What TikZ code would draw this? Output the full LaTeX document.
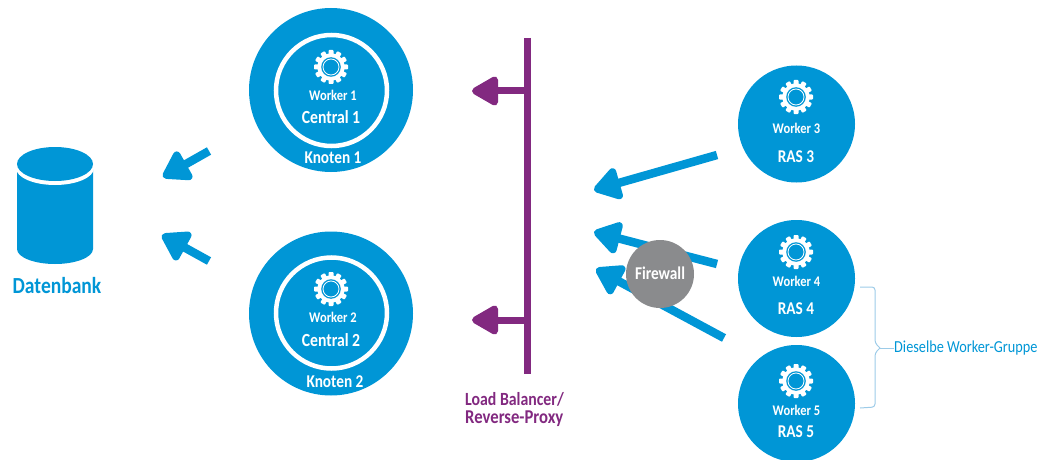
\documentclass[tikz,border=0pt]{standalone}
\usepackage{fontspec}
\setmainfont[FakeStretch=0.85]{Carlito}
\usetikzlibrary{arrows.meta}
\definecolor{hpblue}{HTML}{0096D6}
\definecolor{lbpurple}{HTML}{822980}
\definecolor{fwgray}{HTML}{8A8B8D}
\definecolor{bracketblue}{HTML}{9CCBE8}
\tikzset{
  x=1pt,y=-1pt,
  disc/.style={circle,fill=hpblue,draw=none,inner sep=0pt,minimum size=#1},
  lbl/.style={inner sep=0pt,text=white,font=\bfseries\fontsize{#1}{#1}\selectfont},
  bluearrow/.style={draw=hpblue,line width=8.5pt,-{Triangle[round,length=30pt,width=36pt]}},
  purplearrow/.style={draw=lbpurple,line width=7pt,-{Triangle[round,length=30pt,width=32pt]}},
  pics/gearicon/.style={code={
    \foreach \a in {0,30,...,330}{
      \fill[white,rotate=\a,rounded corners=0.8pt] (-2.5,-17) rectangle (2.5,-11);
    }
    \fill[white] (0,0) circle (13.6);
    \fill[hpblue] (0,0) circle (9.8);
    \draw[white,line width=0.8pt] (0,0) circle (8);
  }}
}
\begin{document}
\begin{tikzpicture}
\useasboundingbox (0,0) rectangle (1042,460);

% database
\fill[hpblue] (17,168) -- (17,249) arc[start angle=180,end angle=0,x radius=38,y radius=15] -- (93,168) -- cycle;
\fill[white] (55,168) ellipse[x radius=39,y radius=17];
\fill[hpblue] (55,164) ellipse[x radius=38,y radius=17];
\node[lbl=23,text=hpblue] (dblabel) at (57,286) {Datenbank};

% central nodes
\node[disc=164pt] (knoten1) at (331,90) {};
\node[circle,draw=white,line width=4.5pt,minimum size=111pt,inner sep=0pt] (ring1) at (331.5,90.5) {};
\pic at (331,67) {gearicon};
\node[lbl=14.7] (w1) at (333,95) {Worker 1};
\node[lbl=18.5] (c1) at (331,117) {Central 1};
\node[lbl=18] (k1) at (333,158) {Knoten 1};

\node[disc=164pt] (knoten2) at (331,313.5) {};
\node[circle,draw=white,line width=4.5pt,minimum size=111pt,inner sep=0pt] (ring2) at (331.5,313) {};
\pic at (331,289) {gearicon};
\node[lbl=14.7] (w2) at (333,317) {Worker 2};
\node[lbl=18.5] (c2) at (331,340) {Central 2};
\node[lbl=18] (k2) at (335,382) {Knoten 2};

% arrows to the database
\coordinate (a1s) at (209,151);
\coordinate (a1e) at (163,177);
\coordinate (a2s) at (209,261);
\coordinate (a2e) at (162,235);
\draw[bluearrow] (a1s) -- (a1e);
\draw[bluearrow] (a2s) -- (a2e);

% load balancer
\coordinate (bartop) at (527,38);
\coordinate (barbot) at (527,374);
\draw[lbpurple,line width=7pt] (bartop) -- (barbot);
\coordinate (p1s) at (527,91);
\coordinate (p1e) at (472,91);
\coordinate (p2s) at (527,320);
\coordinate (p2e) at (472,320);
\draw[purplearrow] (p1s) -- (p1e);
\draw[purplearrow] (p2s) -- (p2e);
\node[lbl=18.6,text=lbpurple,anchor=west] (lb1) at (465,399) {Load Balancer/};
\node[lbl=19.6,text=lbpurple,anchor=west] (lb2) at (465,419) {Reverse-Proxy};

% arrows from RAS
\coordinate (r3s) at (717,155);
\coordinate (r3e) at (594,190);
\coordinate (r4s) at (717,264);
\coordinate (r4e) at (594,232);
\coordinate (r5s) at (724,338);
\coordinate (r5e) at (596,269);
\draw[bluearrow] (r3s) -- (r3e);
\draw[bluearrow] (r4s) -- (r4e);
\draw[bluearrow] (r5s) -- (r5e);

% firewall
\node[circle,fill=fwgray,draw=none,minimum size=68pt,inner sep=0pt] (fw) at (660,274) {};
\node[lbl=18] (fwl) at (660,273) {Firewall};

% RAS
\node[disc=117pt] (ras3) at (796.5,124) {};
\pic at (796,97) {gearicon};
\node[lbl=14.7] (w3) at (796.5,128) {Worker 3};
\node[lbl=18] (r3) at (796,157) {RAS 3};

\node[disc=117pt] (ras4) at (796.5,278.5) {};
\pic at (796,252) {gearicon};
\node[lbl=14.7] (w4) at (796.5,281) {Worker 4};
\node[lbl=18] (r4) at (796,309) {RAS 4};

\node[disc=117pt] (ras5) at (796.5,403.5) {};
\pic at (796,381) {gearicon};
\node[lbl=14.7] (w5) at (796.5,410) {Worker 5};
\node[lbl=18] (r5) at (796,432) {RAS 5};

% bracket
\node[inner sep=0pt,anchor=west,text=hpblue,font=\fontsize{16.8}{17}\selectfont] (same) at (894,348) {Dieselbe Worker-Gruppe};
\coordinate (bt) at (860,287);
\coordinate (bb) at (860,408);
\draw[bracketblue,line width=1pt,rounded corners=3pt] (bt) -- (875,287) -- (875,343) -- (880,348);
\draw[bracketblue,line width=1pt,rounded corners=3pt] (bb) -- (875,407) -- (875,353) -- (880,348);
\draw[bracketblue,line width=1pt] (880,348) -- (same.west);
\end{tikzpicture}
\end{document}
